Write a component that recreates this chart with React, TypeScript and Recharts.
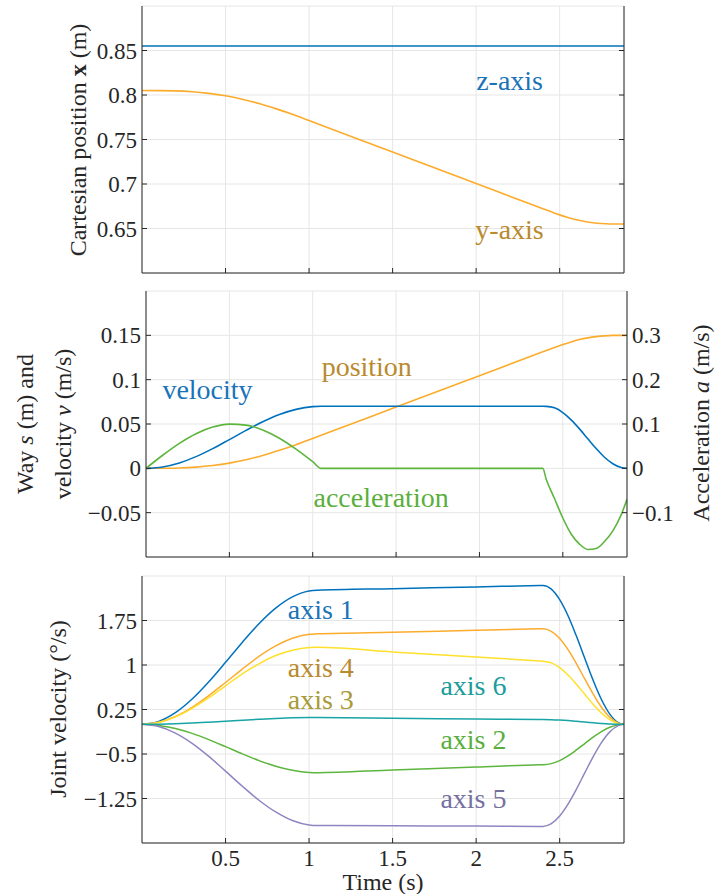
import React from 'react';
import { LineChart, Line, XAxis, YAxis, CartesianGrid, ReferenceDot } from 'recharts';

const FONT = 'Liberation Serif';
const INK = '#262626';
const GRID = '#e6e6e6';

// shared time base (s)
const times = [0, 0.1, 0.2, 0.3, 0.4, 0.5, 0.6, 0.7, 0.8, 0.9, 1.0, 1.05, 1.5, 2.0, 2.38, 2.4, 2.45, 2.5, 2.55, 2.6, 2.65, 2.7, 2.75, 2.8, 2.85, 2.885];
const timeTicks = [0.5, 1, 1.5, 2, 2.5];

// top panel: cartesian position (m)
const zTimes = [0, 2.885];
const zPos = [0.855, 0.855];
const yPos = [0.805, 0.8049, 0.8046, 0.8036, 0.8018, 0.7991, 0.7953, 0.7905, 0.7847, 0.7783, 0.7713, 0.7678, 0.7359, 0.7005, 0.6736, 0.6722, 0.6687, 0.6653, 0.6624, 0.6598, 0.6579, 0.6565, 0.6556, 0.6551, 0.655, 0.655];
const posTicks = [0.65, 0.7, 0.75, 0.8, 0.85];

// middle panel: way, velocity (left), acceleration (right)
const wayS = [0, 0.0001, 0.0004, 0.0014, 0.0032, 0.0059, 0.0097, 0.0145, 0.0203, 0.0267, 0.0337, 0.0372, 0.0691, 0.1045, 0.1314, 0.1328, 0.1363, 0.1397, 0.1426, 0.1452, 0.1471, 0.1485, 0.1494, 0.1499, 0.15, 0.15];
const velV = [0, 0.0016, 0.0061, 0.0132, 0.0222, 0.0324, 0.0428, 0.0525, 0.0607, 0.0665, 0.0696, 0.07, 0.07, 0.07, 0.07, 0.0699, 0.0682, 0.0629, 0.0547, 0.0445, 0.0333, 0.0223, 0.0125, 0.0052, 0.0009, 0];
const accA = [0, 0.0295, 0.0563, 0.0782, 0.0931, 0.0997, 0.0975, 0.0866, 0.068, 0.0433, 0.0149, 0, 0, 0, 0, -0.024, -0.068, -0.112, -0.148, -0.171, -0.183, -0.181, -0.165, -0.141, -0.105, -0.07];
const wayTicks = [-0.05, 0, 0.05, 0.1, 0.15];
const accTicks = [-0.1, 0, 0.1, 0.2, 0.3];

// bottom panel: joint velocities (deg/s)
const axis1 = [0, 0.05, 0.196, 0.426, 0.718, 1.045, 1.381, 1.695, 1.958, 2.148, 2.248, 2.26, 2.287, 2.316, 2.339, 2.34, 2.279, 2.101, 1.83, 1.488, 1.114, 0.744, 0.419, 0.173, 0.03, 0];
const axis2 = [0, -0.018, -0.071, -0.153, -0.258, -0.376, -0.497, -0.611, -0.705, -0.774, -0.81, -0.814, -0.769, -0.72, -0.681, -0.68, -0.662, -0.611, -0.532, -0.432, -0.324, -0.216, -0.122, -0.05, -0.009, 0];
const axis3 = [0, 0.032, 0.125, 0.27, 0.45, 0.65, 0.85, 1.02, 1.16, 1.25, 1.295, 1.3, 1.221, 1.134, 1.068, 1.064, 1.036, 0.955, 0.832, 0.677, 0.506, 0.338, 0.19, 0.079, 0.014, 0];
const axis4 = [0, 0.034, 0.132, 0.287, 0.484, 0.705, 0.932, 1.144, 1.321, 1.45, 1.517, 1.525, 1.553, 1.585, 1.609, 1.61, 1.568, 1.446, 1.259, 1.024, 0.766, 0.512, 0.288, 0.119, 0.021, 0];
const axis5 = [0, -0.038, -0.148, -0.321, -0.541, -0.789, -1.042, -1.279, -1.477, -1.621, -1.696, -1.705, -1.71, -1.715, -1.72, -1.72, -1.675, -1.545, -1.345, -1.094, -0.819, -0.547, -0.308, -0.127, -0.022, 0];
const axis6 = [0, 0.003, 0.01, 0.022, 0.037, 0.053, 0.07, 0.086, 0.1, 0.109, 0.114, 0.115, 0.103, 0.09, 0.08, 0.08, 0.078, 0.072, 0.063, 0.051, 0.038, 0.025, 0.014, 0.006, 0.001, 0];
const jointTicks = [-1.25, -0.5, 0.25, 1, 1.75];

// in-plot annotations: [text, t, value, colour]
const topNotes: [string, number, number, string][] = [
  ['z-axis', 2.2, 0.8164, '#1a73b8'],
  ['y-axis', 2.2, 0.6491, '#b98a2e'],
];
const midNotes: [string, number, number, string][] = [
  ['velocity', 0.369, 0.0892, '#1a73b8'],
  ['position', 1.324, 0.1154, '#b98a2e'],
  ['acceleration', 1.41, -0.0323, '#5aaf3c'],
];
const lowNotes: [string, number, number, string][] = [
  ['axis 1', 1.07, 1.937, '#1a73b8'],
  ['axis 4', 1.07, 0.966, '#b98a2e'],
  ['axis 3', 1.07, 0.422, '#a89a38'],
  ['axis 6', 1.984, 0.663, '#1c9c9c'],
  ['axis 2', 1.984, -0.252, '#5aaf3c'],
  ['axis 5', 1.984, -1.236, '#76709f'],
];

const topY = yPos.map((v, i) => ({ t: times[i], y: v }));
const topZ = zPos.map((v, i) => ({ t: zTimes[i], z: v }));
const midRows = times.map((t, i) => ({ t, s: wayS[i], v: velV[i], a: accA[i] }));
const lowRows = times.map((t, i) => ({ t, a1: axis1[i], a2: axis2[i], a3: axis3[i], a4: axis4[i], a5: axis5[i], a6: axis6[i] }));

const fmt = (v: number) => (v < 0 ? `\u2212${Math.abs(v)}` : `${v}`);
const blank = () => '';
const tickFont = { fontSize: 23, fontFamily: FONT, fill: INK };
const T_END = 2.885;

type Part = { t: string; st?: 'i' | 'b' };

function Title({ px, py, rot, parts }: { px: number; py: number; rot?: boolean; parts: Part[] }) {
  return (
    <text
      x={px}
      y={py}
      transform={rot ? `rotate(-90 ${px} ${py})` : undefined}
      textAnchor="middle"
      dominantBaseline="central"
      fontSize={24}
      fontFamily={FONT}
      fill={INK}
    >
      {parts.map((p, k) => (
        <tspan key={k} fontStyle={p.st === 'i' ? 'italic' : undefined} fontWeight={p.st === 'b' ? 'bold' : undefined}>
          {p.t}
        </tspan>
      ))}
    </text>
  );
}

function notes(list: [string, number, number, string][], yAxisId: string) {
  return list.map(([text, t, v, c]) => (
    <ReferenceDot
      key={text}
      x={t}
      y={v}
      yAxisId={yAxisId}
      r={0}
      fill="none"
      stroke="none"
      label={{ value: text, position: 'center', fill: c, fontSize: 28, fontFamily: FONT }}
    />
  ));
}

// frame axes: top + bottom time axis, ticks pointing inwards
function timeAxes(showLabels: boolean, bottomHeight: number) {
  return [
    <XAxis
      key="b"
      xAxisId={0}
      type="number"
      dataKey="t"
      domain={[0, T_END]}
      allowDataOverflow
      ticks={timeTicks}
      tickSize={-5}
      tickMargin={showLabels ? 12 : 0}
      tickFormatter={showLabels ? fmt : blank}
      tick={tickFont}
      height={bottomHeight}
      axisLine={{ stroke: INK }}
      tickLine={{ stroke: INK }}
      label={showLabels ? <Title px={383} py={317} parts={[{ t: 'Time (s)' }]} /> : undefined}
    />,
    <XAxis
      key="t"
      xAxisId="top"
      orientation="top"
      type="number"
      dataKey="t"
      domain={[0, T_END]}
      allowDataOverflow
      ticks={timeTicks}
      tickSize={-5}
      tickFormatter={blank}
      height={0}
      axisLine={{ stroke: INK }}
      tickLine={{ stroke: INK }}
    />,
  ];
}

export default function App() {
  return (
    <div style={{ position: 'absolute', left: 0, top: 0, width: 725, height: 894, background: '#fff' }}>
      {/* top: cartesian position */}
      <div style={{ position: 'absolute', left: 0, top: 0 }}>
        <LineChart width={725} height={290} margin={{ top: 6, right: 100, bottom: 0, left: 82 }}>
          <CartesianGrid stroke={GRID} xAxisId={0} yAxisId="l" />
          {timeAxes(false, 17)}
          <YAxis
            yAxisId="l"
            type="number"
            domain={[0.6, 0.9]}
            allowDataOverflow
            ticks={posTicks}
            tickSize={-5}
            tickMargin={10}
            tickFormatter={fmt}
            tick={tickFont}
            width={60}
            axisLine={{ stroke: INK }}
            tickLine={{ stroke: INK }}
            label={<Title px={78} py={140} rot parts={[{ t: 'Cartesian position ' }, { t: 'x', st: 'b' }, { t: ' (m)' }]} />}
          />
          <YAxis
            yAxisId="r"
            orientation="right"
            type="number"
            domain={[0.6, 0.9]}
            allowDataOverflow
            ticks={posTicks}
            tickSize={-5}
            tickFormatter={blank}
            width={1}
            axisLine={{ stroke: INK }}
            tickLine={{ stroke: INK }}
          />
          <Line data={topZ} yAxisId="l" dataKey="z" stroke="#0072BD" strokeWidth={1.6} dot={false} isAnimationActive={false} />
          <Line data={topY} yAxisId="l" type="monotone" dataKey="y" stroke="#FCAC2C" strokeWidth={1.6} dot={false} isAnimationActive={false} />
          {notes(topNotes, 'l')}
        </LineChart>
      </div>

      {/* middle: way, velocity, acceleration */}
      <div style={{ position: 'absolute', left: 0, top: 278 }}>
        <LineChart width={725} height={290} data={midRows} margin={{ top: 13, right: 38, bottom: 0, left: 86 }}>
          <CartesianGrid stroke={GRID} xAxisId={0} yAxisId="l" />
          {timeAxes(false, 11)}
          <YAxis
            yAxisId="l"
            type="number"
            domain={[-0.1, 0.2]}
            allowDataOverflow
            ticks={wayTicks}
            tickSize={-5}
            tickMargin={10}
            tickFormatter={fmt}
            tick={tickFont}
            width={60}
            axisLine={{ stroke: INK }}
            tickLine={{ stroke: INK }}
            label={
              <g>
                <Title px={25} py={146} rot parts={[{ t: 'Way ' }, { t: 's', st: 'i' }, { t: ' (m) and' }]} />
                <Title px={63} py={146} rot parts={[{ t: 'velocity ' }, { t: 'v', st: 'i' }, { t: ' (m/s)' }]} />
              </g>
            }
          />
          <YAxis
            yAxisId="r"
            orientation="right"
            type="number"
            domain={[-0.2, 0.4]}
            allowDataOverflow
            ticks={accTicks}
            tickSize={-5}
            tickMargin={10}
            tickFormatter={fmt}
            tick={tickFont}
            width={60}
            axisLine={{ stroke: INK }}
            tickLine={{ stroke: INK }}
            label={<Title px={701} py={145} rot parts={[{ t: 'Acceleration ' }, { t: 'a', st: 'i' }, { t: ' (m/s)' }]} />}
          />
          <Line yAxisId="l" type="monotone" dataKey="s" stroke="#FCAC2C" strokeWidth={1.6} dot={false} isAnimationActive={false} />
          <Line yAxisId="l" type="monotone" dataKey="v" stroke="#0072BD" strokeWidth={1.6} dot={false} isAnimationActive={false} />
          <Line yAxisId="r" type="monotone" dataKey="a" stroke="#5CB53C" strokeWidth={1.6} dot={false} isAnimationActive={false} />
          {notes(midNotes, 'l')}
        </LineChart>
      </div>

      {/* bottom: joint velocities */}
      <div style={{ position: 'absolute', left: 0, top: 565 }}>
        <LineChart width={725} height={329} data={lowRows} margin={{ top: 11, right: 100, bottom: 0, left: 82 }}>
          <CartesianGrid stroke={GRID} xAxisId={0} yAxisId="l" />
          {timeAxes(true, 51)}
          <YAxis
            yAxisId="l"
            type="number"
            domain={[-2, 2.5]}
            allowDataOverflow
            ticks={jointTicks}
            tickSize={-5}
            tickMargin={10}
            tickFormatter={fmt}
            tick={tickFont}
            width={60}
            axisLine={{ stroke: INK }}
            tickLine={{ stroke: INK }}
            label={<Title px={58} py={144} rot parts={[{ t: 'Joint velocity (\u00b0/s)' }]} />}
          />
          <YAxis
            yAxisId="r"
            orientation="right"
            type="number"
            domain={[-2, 2.5]}
            allowDataOverflow
            ticks={jointTicks}
            tickSize={-5}
            tickFormatter={blank}
            width={1}
            axisLine={{ stroke: INK }}
            tickLine={{ stroke: INK }}
          />
          <Line yAxisId="l" type="monotone" dataKey="a1" stroke="#0072BD" strokeWidth={1.5} dot={false} isAnimationActive={false} />
          <Line yAxisId="l" type="monotone" dataKey="a4" stroke="#FCAC2C" strokeWidth={1.5} dot={false} isAnimationActive={false} />
          <Line yAxisId="l" type="monotone" dataKey="a3" stroke="#FFE02A" strokeWidth={1.5} dot={false} isAnimationActive={false} />
          <Line yAxisId="l" type="monotone" dataKey="a2" stroke="#5CB53C" strokeWidth={1.5} dot={false} isAnimationActive={false} />
          <Line yAxisId="l" type="monotone" dataKey="a5" stroke="#8E86C2" strokeWidth={1.5} dot={false} isAnimationActive={false} />
          <Line yAxisId="l" type="monotone" dataKey="a6" stroke="#18A3A6" strokeWidth={1.5} dot={false} isAnimationActive={false} />
          {notes(lowNotes, 'l')}
        </LineChart>
      </div>
    </div>
  );
}
